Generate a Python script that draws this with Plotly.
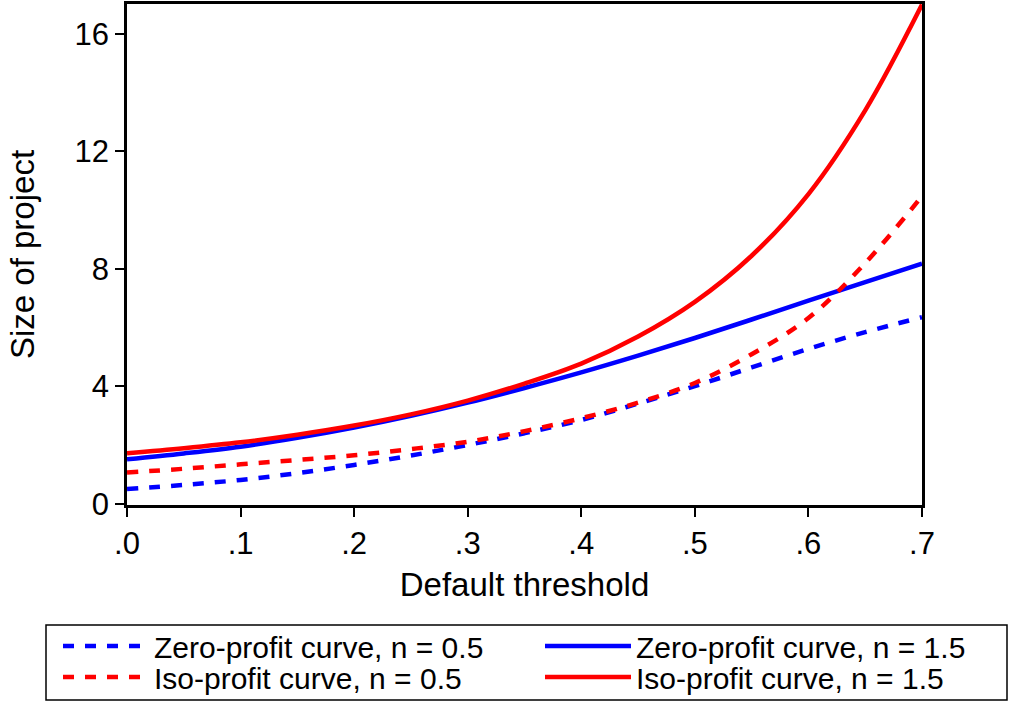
import plotly.graph_objects as go

# Default threshold values (x)
threshold = [0.0, 0.05, 0.10, 0.15, 0.20, 0.25, 0.30, 0.35, 0.40, 0.45, 0.50, 0.55, 0.60, 0.65, 0.70]

# Series values (size of project)
zero_profit_n05 = [0.51, 0.65, 0.82, 1.05, 1.33, 1.65, 2.01, 2.41, 2.86, 3.42, 4.01, 4.65, 5.28, 5.85, 6.36]
zero_profit_n15 = [1.52, 1.72, 1.95, 2.25, 2.60, 3.00, 3.45, 3.95, 4.48, 5.05, 5.65, 6.28, 6.92, 7.55, 8.18]
iso_profit_n05 = [1.07, 1.20, 1.35, 1.50, 1.66, 1.87, 2.12, 2.48, 2.92, 3.45, 4.12, 5.10, 6.33, 8.20, 10.48]
iso_profit_n15 = [1.73, 1.90, 2.10, 2.36, 2.67, 3.05, 3.52, 4.10, 4.78, 5.70, 6.88, 8.45, 10.55, 13.40, 17.00]

# Tick labels
x_tickvals = [0.0, 0.1, 0.2, 0.3, 0.4, 0.5, 0.6, 0.7]
x_ticktext = [".0", ".1", ".2", ".3", ".4", ".5", ".6", ".7"]
y_tickvals = [0, 4, 8, 12, 16]
y_ticktext = ["0", "4", "8", "12", "16"]

names = ["Zero-profit curve, n = 0.5", "Zero-profit curve, n = 1.5",
         "Iso-profit curve, n = 0.5", "Iso-profit curve, n = 1.5"]

FONT = "Liberation Sans, Arial, Helvetica, sans-serif"
BLUE = "#0000FF"
RED = "#FF0000"
DASH = "11px,11px"

fig = go.Figure()
fig.add_trace(go.Scatter(x=threshold, y=zero_profit_n05, mode="lines", name=names[0],
                         line=dict(color=BLUE, width=4.5, dash=DASH, shape="spline"),
                         legend="legend", showlegend=True))
fig.add_trace(go.Scatter(x=threshold, y=zero_profit_n15, mode="lines", name=names[1],
                         line=dict(color=BLUE, width=4.5, shape="spline"),
                         legend="legend2", showlegend=True))
fig.add_trace(go.Scatter(x=threshold, y=iso_profit_n05, mode="lines", name=names[2],
                         line=dict(color=RED, width=4.5, dash=DASH, shape="spline"),
                         legend="legend3", showlegend=True))
fig.add_trace(go.Scatter(x=threshold, y=iso_profit_n15, mode="lines", name=names[3],
                         line=dict(color=RED, width=4.5, shape="spline"),
                         legend="legend4", showlegend=True))

W, H = 1012, 703
L, R, T, B = 127, 90, 4, 198
pw, ph = W - L - R, H - T - B

def px_to_paper_x(px):
    return (px - L) / pw

def px_to_paper_y(py):
    return (H - B - py) / ph

def legend_at(px, py):
    return dict(
        x=px_to_paper_x(px), y=px_to_paper_y(py),
        orientation="h",
        xanchor="left",
        yanchor="middle",
        bgcolor="rgba(0,0,0,0)",
        borderwidth=0,
        font=dict(family=FONT, size=30, color="black"),
        itemwidth=86,
        itemclick=False,
        itemdoubleclick=False,
    )

COL1, COL2 = 58, 540
ROW1, ROW2 = 646, 677

fig.update_layout(
    width=W, height=H,
    margin=dict(l=L, r=R, t=T, b=B, autoexpand=False),
    paper_bgcolor="white",
    plot_bgcolor="white",
    showlegend=True,
    font=dict(family=FONT, size=30, color="black"),
    legend=legend_at(COL1, ROW1),
    legend2=legend_at(COL2, ROW1),
    legend3=legend_at(COL1, ROW2),
    legend4=legend_at(COL2, ROW2),
    shapes=[dict(type="rect", xref="paper", yref="paper",
                 x0=px_to_paper_x(46), x1=px_to_paper_x(1007),
                 y0=px_to_paper_y(625), y1=px_to_paper_y(700),
                 line=dict(color="black", width=1.5), fillcolor="rgba(0,0,0,0)",
                 layer="below")],
)

fig.update_xaxes(
    range=[0, 0.7],
    tickvals=x_tickvals, ticktext=x_ticktext,
    ticks="outside", ticklen=9, tickwidth=2, tickcolor="black",
    showline=True, linewidth=2.5, linecolor="black", mirror=True,
    showgrid=False, zeroline=False,
    tickfont=dict(family=FONT, size=31),
    title=dict(text="Default threshold", font=dict(family=FONT, size=33), standoff=13),
)
fig.update_yaxes(
    range=[-0.034, 17.02],
    tickvals=y_tickvals, ticktext=y_ticktext,
    ticks="outside", ticklen=9, tickwidth=2, tickcolor="black",
    showline=True, linewidth=2.5, linecolor="black", mirror=True,
    showgrid=False, zeroline=False,
    tickfont=dict(family=FONT, size=31),
    title=dict(text="Size of project", font=dict(family=FONT, size=33), standoff=31),
)

fig.write_html("out.html", config={"displayModeBar": False})
